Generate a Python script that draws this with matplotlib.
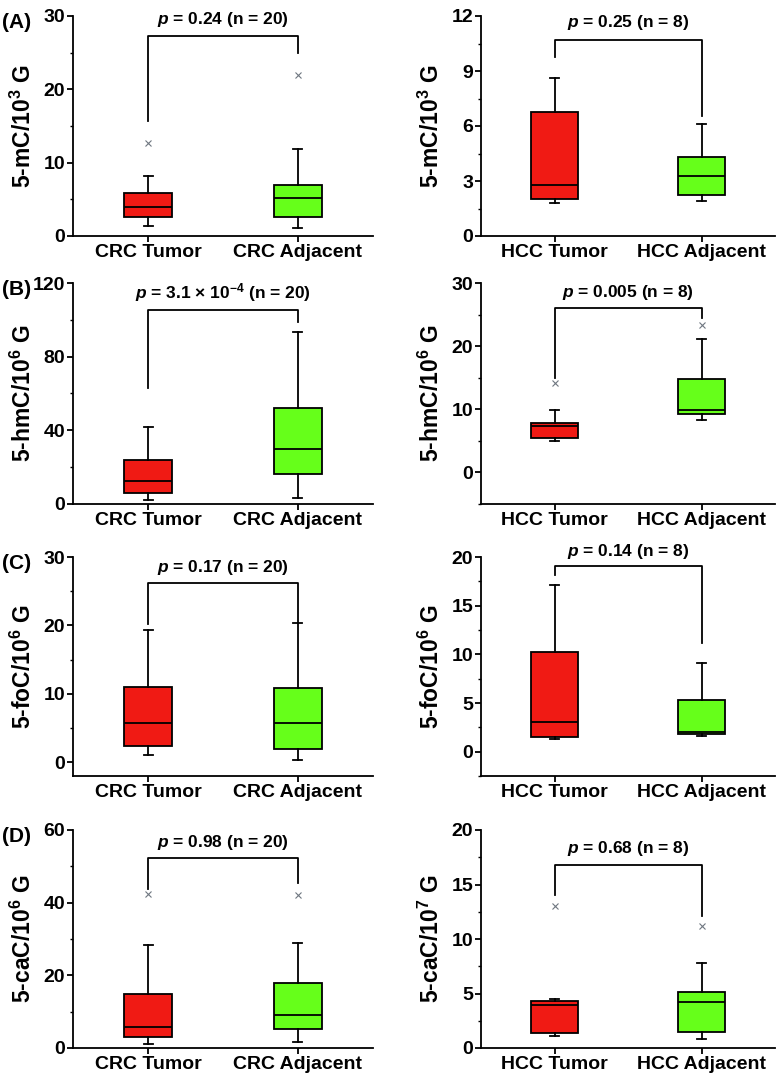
import matplotlib
matplotlib.use('Agg')
import matplotlib.pyplot as plt
from matplotlib.ticker import MultipleLocator, AutoMinorLocator

plt.rcParams['font.family'] = ['Liberation Sans', 'DejaVu Sans']
plt.rcParams['font.weight'] = 'bold'
plt.rcParams['axes.labelweight'] = 'bold'
plt.rcParams['mathtext.fontset'] = 'custom'
plt.rcParams['mathtext.rm'] = 'Liberation Sans:bold'
plt.rcParams['mathtext.bf'] = 'Liberation Sans:bold'
plt.rcParams['mathtext.it'] = 'Liberation Sans:italic:bold'

crc_labels = ['CRC Tumor', 'CRC Adjacent']
hcc_labels = ['HCC Tumor', 'HCC Adjacent']

# box stats per group: [whisker low, q1, median, q3, whisker high]
mc_crc = [[1.4, 2.55, 3.9, 5.9, 8.2], [1.05, 2.55, 5.2, 6.95, 11.9]]
mc_crc_out = [[12.7], [21.9]]
mc_hcc = [[1.82, 2.0, 2.8, 6.75, 8.6], [1.9, 2.24, 3.3, 4.3, 6.1]]
mc_hcc_out = [[], []]

hmc_crc = [[2.0, 5.8, 12.5, 24.0, 41.6], [3.3, 16.3, 29.8, 52.3, 93.5]]
hmc_crc_out = [[], []]
hmc_hcc = [[4.9, 5.4, 7.3, 7.9, 9.9], [8.3, 9.2, 9.9, 14.8, 21.1]]
hmc_hcc_out = [[14.2], [23.4]]

foc_crc = [[1.0, 2.4, 5.8, 11.0, 19.3], [0.4, 2.0, 5.8, 10.8, 20.3]]
foc_crc_out = [[], []]
foc_hcc = [[1.3, 1.5, 3.0, 10.2, 17.1], [1.6, 1.8, 2.05, 5.35, 9.1]]
foc_hcc_out = [[], []]

cac_crc = [[1.1, 3.1, 5.9, 14.8, 28.4], [1.6, 5.3, 9.2, 18.0, 29.0]]
cac_crc_out = [[42.3], [42.0]]
cac_hcc = [[1.07, 1.34, 3.95, 4.27, 4.5], [0.82, 1.47, 4.2, 5.15, 7.8]]
cac_hcc_out = [[13.0], [11.2]]

p_texts = [r'$p$ = 0.24 (n = 20)', r'$p$ = 0.25 (n = 8)',
           r'$p$ = 3.1 $\times$ 10$^{-4}$ (n = 20)', r'$p$ = 0.005 (n = 8)',
           r'$p$ = 0.17 (n = 20)', r'$p$ = 0.14 (n = 8)',
           r'$p$ = 0.98 (n = 20)', r'$p$ = 0.68 (n = 8)']
ylabels = ['5-mC/10$^3$ G', '5-mC/10$^3$ G',
           '5-hmC/10$^6$ G', '5-hmC/10$^6$ G',
           '5-foC/10$^6$ G', '5-foC/10$^6$ G',
           '5-caC/10$^6$ G', '5-caC/10$^7$ G']
panel_tags = ['(A)', '(B)', '(C)', '(D)']

red = '#f01a14'
green = '#66ff1a'

# (stats, outliers, xlabels, ylim, major step, bracket: left leg, top, right leg, text y)
panels = [
    (mc_crc, mc_crc_out, crc_labels, (0, 30), 10, (15.7, 27.3, 25.0, 28.2)),
    (mc_hcc, mc_hcc_out, hcc_labels, (0, 12), 3, (9.76, 10.7, 6.57, 11.1)),
    (hmc_crc, hmc_crc_out, crc_labels, (0, 120), 40, (63.2, 105.1, 98.8, 108.5)),
    (hmc_hcc, hmc_hcc_out, hcc_labels, (-5, 30), 10, (15.0, 26.0, 24.5, 27.0)),
    (foc_crc, foc_crc_out, crc_labels, (-2, 30), 10, (20.2, 26.2, 20.3, 27.1)),
    (foc_hcc, foc_hcc_out, hcc_labels, (-2.5, 20), 5, (18.2, 19.1, 11.2, 19.6)),
    (cac_crc, cac_crc_out, crc_labels, (0, 60), 20, (43.8, 52.4, 45.3, 54.0)),
    (cac_hcc, cac_hcc_out, hcc_labels, (0, 20), 5, (14.05, 16.8, 12.15, 17.4)),
]

W, H = 784, 1078
fig = plt.figure(figsize=(W / 100, H / 100), dpi=100)

rows_px = [(16, 236), (283, 504), (557, 776), (830, 1048)]
cols_px = [(73, 373), (481, 775)]
label_x = [-0.125, -0.125]

for i, (stats, outs, xl, ylim, step, br) in enumerate(panels):
    r, c = divmod(i, 2)
    top, bot = rows_px[r]
    x0, x1 = cols_px[c]
    ax = fig.add_axes([x0 / W, 1 - bot / H, (x1 - x0) / W, (bot - top) / H])

    bstats = []
    for s, o in zip(stats, outs):
        bstats.append(dict(whislo=s[0], q1=s[1], med=s[2], q3=s[3], whishi=s[4], fliers=o))
    parts = ax.bxp(bstats, positions=[1, 2], widths=0.32, patch_artist=True,
                   capwidths=0.06,
                   boxprops=dict(edgecolor='black', linewidth=1.3),
                   medianprops=dict(color='black', linewidth=1.3),
                   whiskerprops=dict(color='black', linewidth=1.3),
                   capprops=dict(color='black', linewidth=1.3),
                   flierprops=dict(marker='x', markeredgecolor='#6f7780',
                                   markersize=4, markeredgewidth=0.8))
    for box, col in zip(parts['boxes'], [red, green]):
        box.set_facecolor(col)

    # significance bracket
    ax.plot([1, 1, 2, 2], [br[0], br[1], br[1], br[2]], color='black', lw=1.3, clip_on=False)
    ax.text(1.5, br[3], p_texts[i], ha='center', va='bottom', fontsize=12.5, clip_on=False)

    ax.set_xlim(0.5, 2.5)
    ax.set_ylim(*ylim)
    ax.yaxis.set_major_locator(MultipleLocator(step))
    ax.yaxis.set_minor_locator(AutoMinorLocator(2))
    ax.set_xticks([1, 2])
    ax.set_xticklabels(xl)
    ax.set_ylabel(ylabels[i], fontsize=16.5)
    ax.yaxis.set_label_coords(label_x[c], 0.5)
    ax.spines['top'].set_visible(False)
    ax.spines['right'].set_visible(False)
    for sp in ['left', 'bottom']:
        ax.spines[sp].set_linewidth(1.3)
    ax.tick_params(axis='both', which='major', direction='out', length=4, width=1.3,
                   labelsize=14)
    ax.tick_params(axis='y', which='major', pad=1.5)
    ax.tick_params(axis='x', which='major', pad=2)
    ax.tick_params(axis='y', which='minor', direction='out', length=2.5, width=1.0)

    if c == 0:
        fig.text(2 / W, 1 - (top - 3) / H, panel_tags[r], ha='left', va='top',
                 fontsize=15, fontweight='bold')

fig.savefig('out.png', dpi=100)
